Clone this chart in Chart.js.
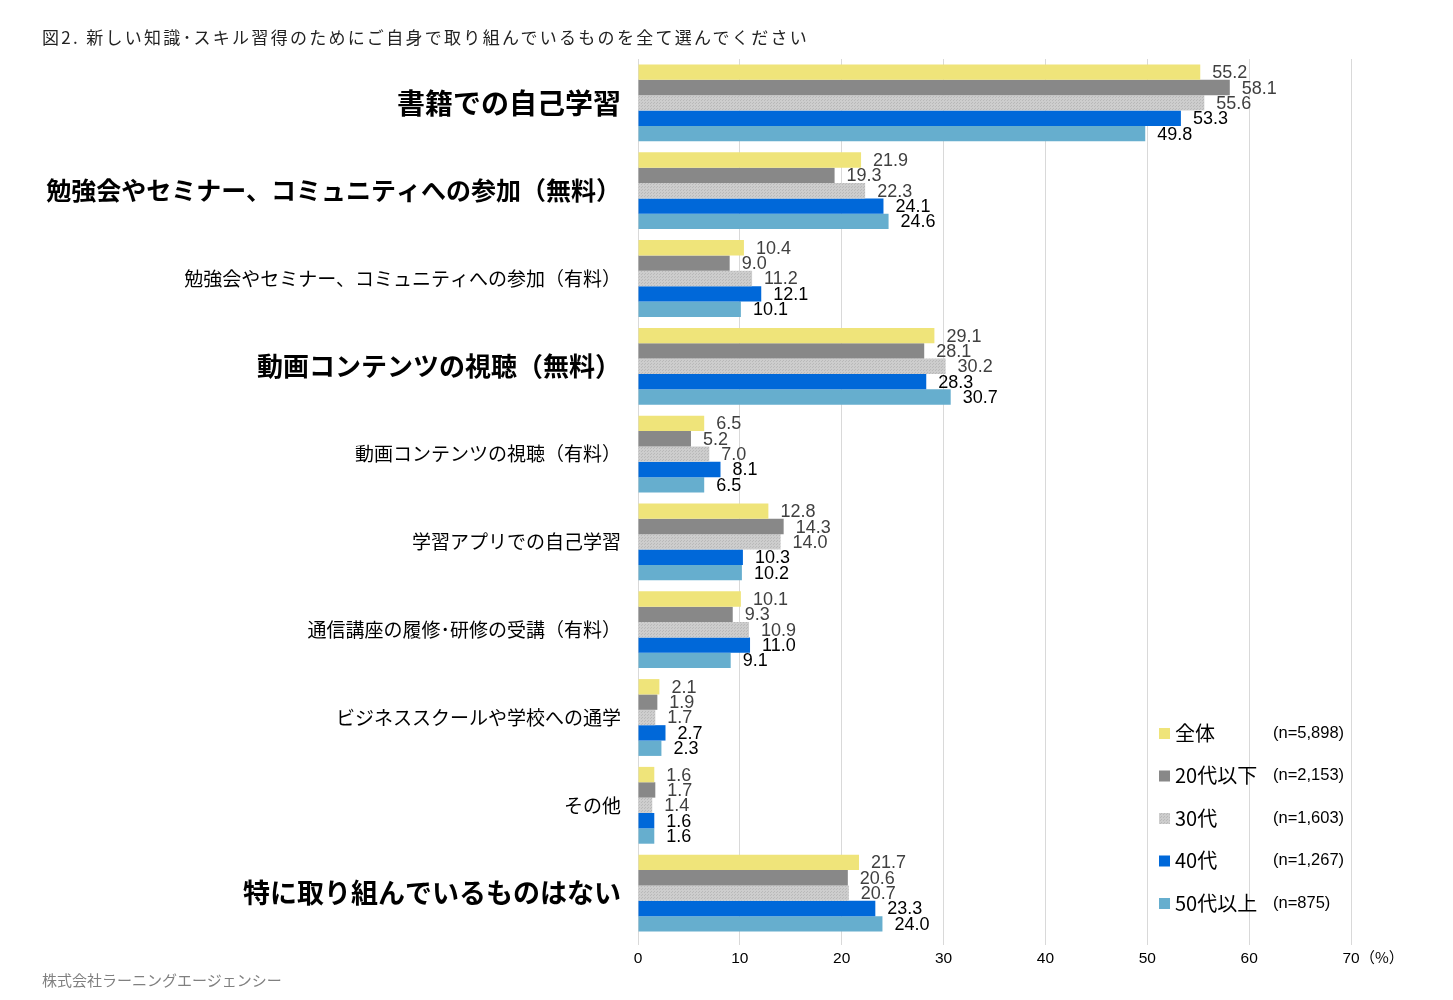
<!DOCTYPE html>
<html>
<head>
<meta charset="utf-8">
<script src="https://cdn.jsdelivr.net/npm/chart.js@4"></script>
<style>
  body { margin: 0; background: #fff; }
  #wrap { position: relative; width: 1453px; height: 1000px; font-family: "Noto Sans CJK JP", sans-serif; }
  #title { position: absolute; left: 42px; top: 24px; font-size: 17px; letter-spacing: 2.3px; color: #222; }
  #footer { position: absolute; left: 42px; top: 969px; font-size: 15px; color: #808080; }
</style>
</head>
<body>
<div id="wrap">
  <canvas id="chart" width="1453" height="1000"></canvas>
  <div id="title">図2. 新しい知識･スキル習得のためにご自身で取り組んでいるものを全て選んでください</div>
  <div id="footer">株式会社ラーニングエージェンシー</div>
</div>
<script>
// categories (top to bottom)
const categories = [
  "書籍での自己学習",
  "勉強会やセミナー、コミュニティへの参加（無料）",
  "勉強会やセミナー、コミュニティへの参加（有料）",
  "動画コンテンツの視聴（無料）",
  "動画コンテンツの視聴（有料）",
  "学習アプリでの自己学習",
  "通信講座の履修･研修の受講（有料）",
  "ビジネススクールや学校への通学",
  "その他",
  "特に取り組んでいるものはない"
];
const boldCategories = [0, 1, 3, 9];

const seriesNames = ["全体", "20代以下", "30代", "40代", "50代以上"];
const sampleSizes = ["(n=5,898)", "(n=2,153)", "(n=1,603)", "(n=1,267)", "(n=875)"];

const allAges = [55.2, 21.9, 10.4, 29.1, 6.5, 12.8, 10.1, 2.1, 1.6, 21.7];
const age20s = [58.1, 19.3, 9.0, 28.1, 5.2, 14.3, 9.3, 1.9, 1.7, 20.6];
const age30s = [55.6, 22.3, 11.2, 30.2, 7.0, 14.0, 10.9, 1.7, 1.4, 20.7];
const age40s = [53.3, 24.1, 12.1, 28.3, 8.1, 10.3, 11.0, 2.7, 1.6, 23.3];
const age50s = [49.8, 24.6, 10.1, 30.7, 6.5, 10.2, 9.1, 2.3, 1.6, 24.0];

const xTicks = [0, 10, 20, 30, 40, 50, 60, 70];

// dotted texture for the 30代 bars
function makePattern(base, dot) {
  const c = document.createElement("canvas");
  c.width = 3; c.height = 3;
  const g = c.getContext("2d");
  g.fillStyle = base;
  g.fillRect(0, 0, 3, 3);
  g.fillStyle = dot;
  g.fillRect(0, 0, 1, 1);
  g.fillRect(2, 1, 1, 1);
  return g.createPattern(c, "repeat");
}
const ctx = document.getElementById("chart").getContext("2d");
const gray30 = makePattern("#cdcdcd", "#b9b9b9");

const colors = ["#efe47a", "#888888", gray30, "#0068d9", "#66aece"];
const labelColors = ["#404040", "#404040", "#404040", "#000000", "#000000"];
const values = [allAges, age20s, age30s, age40s, age50s];

const valueLabels = {
  id: "valueLabels",
  afterDatasetsDraw(chart) {
    const c = chart.ctx;
    c.save();
    c.font = "18px 'Liberation Sans', Arial, sans-serif";
    c.textAlign = "left";
    c.textBaseline = "middle";
    chart.data.datasets.forEach((ds, i) => {
      const meta = chart.getDatasetMeta(i);
      c.fillStyle = labelColors[i];
      meta.data.forEach((bar, j) => {
        c.fillText(ds.data[j].toFixed(1), bar.x + 12, bar.y + 1);
      });
    });
    c.restore();
  }
};

const sideLegend = {
  id: "sideLegend",
  afterDraw(chart) {
    const c = chart.ctx;
    c.save();
    c.textBaseline = "middle";
    seriesNames.forEach((name, i) => {
      const y = 733 + i * 42.5;
      c.fillStyle = colors[i];
      c.fillRect(1159, y - 5, 11, 11);
      c.fillStyle = "#000";
      c.font = "20px 'Noto Sans CJK JP', sans-serif";
      c.fillText(name, 1175, y);
      c.font = "16.5px 'Liberation Sans', Arial, sans-serif";
      c.fillText(sampleSizes[i], 1273, y);
    });
    // unit after the last tick
    c.fillStyle = "#000";
    c.font = "15px 'Noto Sans CJK JP', sans-serif";
    c.fillText("（%）", 1360, 957);
    c.restore();
  }
};

new Chart(ctx, {
  type: "bar",
  data: {
    labels: categories,
    datasets: seriesNames.map((name, i) => ({
      label: name,
      data: values[i],
      backgroundColor: colors[i],
      categoryPercentage: 0.875,
      barPercentage: 1.0
    }))
  },
  options: {
    indexAxis: "y",
    responsive: false,
    animation: false,
    devicePixelRatio: 1,
    layout: { padding: { top: 59, right: 102, bottom: 0, left: 0 } },
    plugins: {
      legend: { display: false },
      tooltip: { enabled: false }
    },
    scales: {
      x: {
        min: 0,
        max: 70,
        afterBuildTicks: (scale) => {
          scale.ticks = xTicks.map((v) => ({ value: v }));
        },
        afterFit: (scale) => { scale.height = 63; },
        grid: { color: "#d9d9d9", tickLength: 8, drawTicks: true },
        border: { display: false },
        ticks: {
          color: "#000",
          padding: 4,
          font: { family: "'Liberation Sans', Arial, sans-serif", size: 15.5 }
        }
      },
      y: {
        afterFit: (scale) => { scale.width = 638; },
        grid: { display: false, drawTicks: false },
        border: { display: true, color: "#d9d9d9" },
        ticks: {
          padding: 17,
          color: "#000",
          font: (c) => {
            if (!boldCategories.includes(c.index)) {
              return { family: "'Noto Sans CJK JP', sans-serif", size: 19, weight: "normal" };
            }
            // labels with full-width brackets are set a little smaller,
            // the original used narrower punctuation
            const sizes = { 0: 28, 1: 25, 3: 26, 9: 27 };
            return { family: "'Noto Sans CJK JP', sans-serif", size: sizes[c.index], weight: "bold" };
          }
        }
      }
    }
  },
  plugins: [valueLabels, sideLegend]
});
</script>
</body>
</html>
